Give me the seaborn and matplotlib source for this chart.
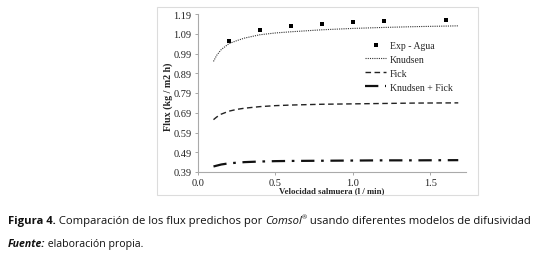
import matplotlib
matplotlib.use("Agg")
import numpy as np
import pandas as pd
import seaborn as sns
from matplotlib import pyplot as plt
from matplotlib.patches import Rectangle

# experimental points
exp_x = [0.2, 0.4, 0.6, 0.8, 1.0, 1.2, 1.6]
exp_flux = [1.053, 1.109, 1.129, 1.141, 1.148, 1.153, 1.160]

# model curves
model_x = [0.1, 0.12, 0.15, 0.2, 0.25, 0.3, 0.4, 0.5, 0.6, 0.8, 1.0, 1.2, 1.4, 1.68]
knudsen = [0.950, 0.980, 1.010, 1.040, 1.055, 1.068, 1.085, 1.094, 1.100, 1.110,
           1.117, 1.122, 1.126, 1.130]
fick = [0.655, 0.668, 0.683, 0.698, 0.707, 0.713, 0.721, 0.726, 0.729, 0.733,
        0.735, 0.737, 0.739, 0.740]
knudsen_fick = [0.418, 0.422, 0.428, 0.434, 0.437, 0.440, 0.443, 0.445, 0.446,
                0.447, 0.448, 0.449, 0.449, 0.450]

yticks = [0.39, 0.49, 0.59, 0.69, 0.79, 0.89, 0.99, 1.09, 1.19]
xticks = [0.0, 0.5, 1.0, 1.5]

sns.set_style("ticks")
plt.rcParams["font.family"] = ["Liberation Serif", "DejaVu Serif"]

fig = plt.figure(figsize=(5.41, 2.55), dpi=100)
W, H = 541, 255
ax = fig.add_axes([198 / W, 1 - 173 / H, 268 / W, 158 / H])

# light frame around the chart
fig.patches.append(Rectangle((157 / W, 1 - 196 / H), 321 / W, 188 / H,
                             transform=fig.transFigure, fill=False,
                             edgecolor="#dcdcdc", linewidth=0.8))

df = pd.DataFrame({"x": exp_x, "y": exp_flux})
sns.scatterplot(data=df, x="x", y="y", ax=ax, marker="s", s=5, color="black",
                edgecolor="black", linewidth=0, label="Exp - Agua")
sns.lineplot(x=model_x, y=knudsen, ax=ax, color="#333333", linewidth=0.8,
             linestyle=(0, (1, 1)), label="Knudsen")
sns.lineplot(x=model_x, y=fick, ax=ax, color="#222222", linewidth=1.0,
             linestyle=(0, (4, 2.5)), label="Fick")
sns.lineplot(x=model_x, y=knudsen_fick, ax=ax, color="#111111", linewidth=1.6,
             linestyle=(0, (6, 3, 1.2, 3)), label="Knudsen + Fick")

ax.set_xlim(0, 1.73)
ax.set_ylim(0.39, 1.19)
ax.set_xticks(xticks)
ax.set_xticklabels([f"{v:.1f}" for v in xticks])
ax.set_yticks(yticks)
ax.set_yticklabels([f"{v:.2f}" for v in yticks])
ax.tick_params(labelsize=7.5, length=2.5, width=0.6, color="#999999",
               pad=2, labelcolor="#222222")
for s in ["top", "right"]:
    ax.spines[s].set_visible(False)
for s in ["left", "bottom"]:
    ax.spines[s].set_color("#aaaaaa")
    ax.spines[s].set_linewidth(0.8)

ax.set_xlabel("Velocidad salmuera (l / min)", fontsize=6.3, fontweight="bold")
ax.xaxis.set_label_coords(0.5, -0.092)
ax.set_ylabel("Flux (kg / m2 h)", fontsize=7.2, fontweight="bold")
ax.yaxis.set_label_coords(-0.093, 0.48)

leg = ax.legend(loc="upper left", bbox_to_anchor=(0.59, 0.885), frameon=False,
                fontsize=7, handlelength=2.2, handletextpad=0.4,
                labelspacing=0.5, markerscale=1.0)

# caption
renderer = fig.canvas.get_renderer()
cap_font = ["Open Sans", "DejaVu Sans"]
x0 = 8 / W
y1 = 1 - 224 / H
parts = [("Figura 4.", "bold", "normal"),
         (" Comparación de los flux predichos por ", "normal", "normal"),
         ("Comsol", "normal", "italic")]
x = x0
for txt, wt, st in parts:
    t = fig.text(x, y1, txt, fontsize=8.15, fontweight=wt, fontstyle=st,
                 family=cap_font, color="#111111", va="baseline")
    bb = t.get_window_extent(renderer)
    x = bb.x1 / (W)
t = fig.text(x, y1 + 0.018, "®", fontsize=4.5, family=cap_font, color="#111111",
             va="baseline")
x = t.get_window_extent(renderer).x1 / W
fig.text(x, y1, " usando diferentes modelos de difusividad", fontsize=8.15,
         family=cap_font, color="#111111", va="baseline")

y2 = 1 - 247 / H
t = fig.text(x0, y2, "Fuente:", fontsize=7.6, fontweight="bold", fontstyle="italic",
             family=cap_font, color="#111111", va="baseline")
x = t.get_window_extent(renderer).x1 / W
fig.text(x, y2, " elaboración propia.", fontsize=7.6, family=cap_font,
         color="#111111", va="baseline")

fig.savefig("out.png", dpi=100)
